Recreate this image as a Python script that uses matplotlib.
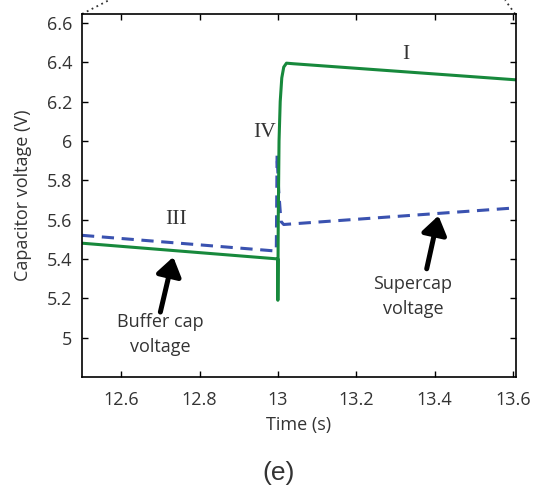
import matplotlib
matplotlib.use('Agg')
from matplotlib import pyplot as plt

plt.rc('font', family='Open Sans')

# green: buffer cap voltage
t_buf = [12.5, 13.0, 13.0, 13.001, 13.003, 13.006, 13.01, 13.015, 13.022, 13.04, 13.61]
v_buf = [5.48, 5.40, 5.19, 5.60, 6.00, 6.20, 6.32, 6.375, 6.395, 6.392, 6.31]

# blue dashed: supercap voltage
t_sup = [12.5, 12.996, 12.998, 13.002, 13.008, 13.015, 13.61]
v_sup = [5.52, 5.44, 5.93, 5.75, 5.59, 5.575, 5.66]

xticks = [12.6, 12.8, 13.0, 13.2, 13.4, 13.6]
xtick_labels = ['12.6', '12.8', '13', '13.2', '13.4', '13.6']
yticks = [5.0, 5.2, 5.4, 5.6, 5.8, 6.0, 6.2, 6.4, 6.6]
ytick_labels = ['5', '5.2', '5.4', '5.6', '5.8', '6', '6.2', '6.4', '6.6']

green = '#17893c'
blue = '#3a52b0'
txt = '#333333'

fig = plt.figure(figsize=(5.34, 4.87), dpi=100)
ax = fig.add_axes([0.1536, 0.2259, 0.8127, 0.7454])

ax.plot(t_sup, v_sup, color=blue, lw=2.2, dashes=(4, 2.5))
ax.plot(t_buf, v_buf, color=green, lw=2.2)

ax.set_xlim(12.5, 13.608)
ax.set_ylim(4.8, 6.645)
ax.set_xticks(xticks)
ax.set_xticklabels(xtick_labels)
ax.set_yticks(yticks)
ax.set_yticklabels(ytick_labels)
ax.tick_params(direction='in', top=True, right=True, length=4, width=1,
               labelsize=13, labelcolor=txt)
ax.tick_params(axis='x', pad=10)
ax.tick_params(axis='y', pad=7)
for sp in ax.spines.values():
    sp.set_linewidth(1.2)

ax.set_xlabel('Time (s)', fontsize=13, color=txt, labelpad=5)
ax.set_ylabel('Capacitor voltage (V)', fontsize=13, color=txt, labelpad=11)

# region labels
roman = dict(family='Liberation Serif', fontsize=15.5, color=txt, ha='center', va='center')
ax.text(13.326, 6.438, 'I', **roman)
ax.text(12.74, 5.598, 'III', **roman)
ax.text(12.967, 6.043, 'IV', **roman)

# arrows
arr = dict(arrowstyle='-|>,head_length=0.55,head_width=0.38', color='black',
           lw=3.6, mutation_scale=20, shrinkA=0, shrinkB=0)
ax.annotate('', xy=(12.733, 5.41), xytext=(12.70, 5.13), arrowprops=arr)
ax.annotate('', xy=(13.41, 5.62), xytext=(13.38, 5.35), arrowprops=arr)
ax.text(12.70, 5.017, 'Buffer cap\nvoltage', fontsize=13, color=txt,
        ha='center', va='center', linespacing=1.5)
ax.text(13.345, 5.21, 'Supercap\nvoltage', fontsize=13, color=txt,
        ha='center', va='center', linespacing=1.5)

# zoom indicator lines above the axes
ax.plot([0.0, 0.062], [1.0, 1.038], transform=ax.transAxes, clip_on=False,
        color=txt, lw=1.3, ls=(0, (1, 2)))
ax.plot([0.998, 0.975], [1.0, 1.038], transform=ax.transAxes, clip_on=False,
        color=txt, lw=1.3, ls=(0, (1, 2)))

fig.text(0.522, 0.029, '(e)', family='Liberation Sans', fontsize=19, color=txt,
         ha='center', va='center')

fig.savefig('out.png', dpi=100)
